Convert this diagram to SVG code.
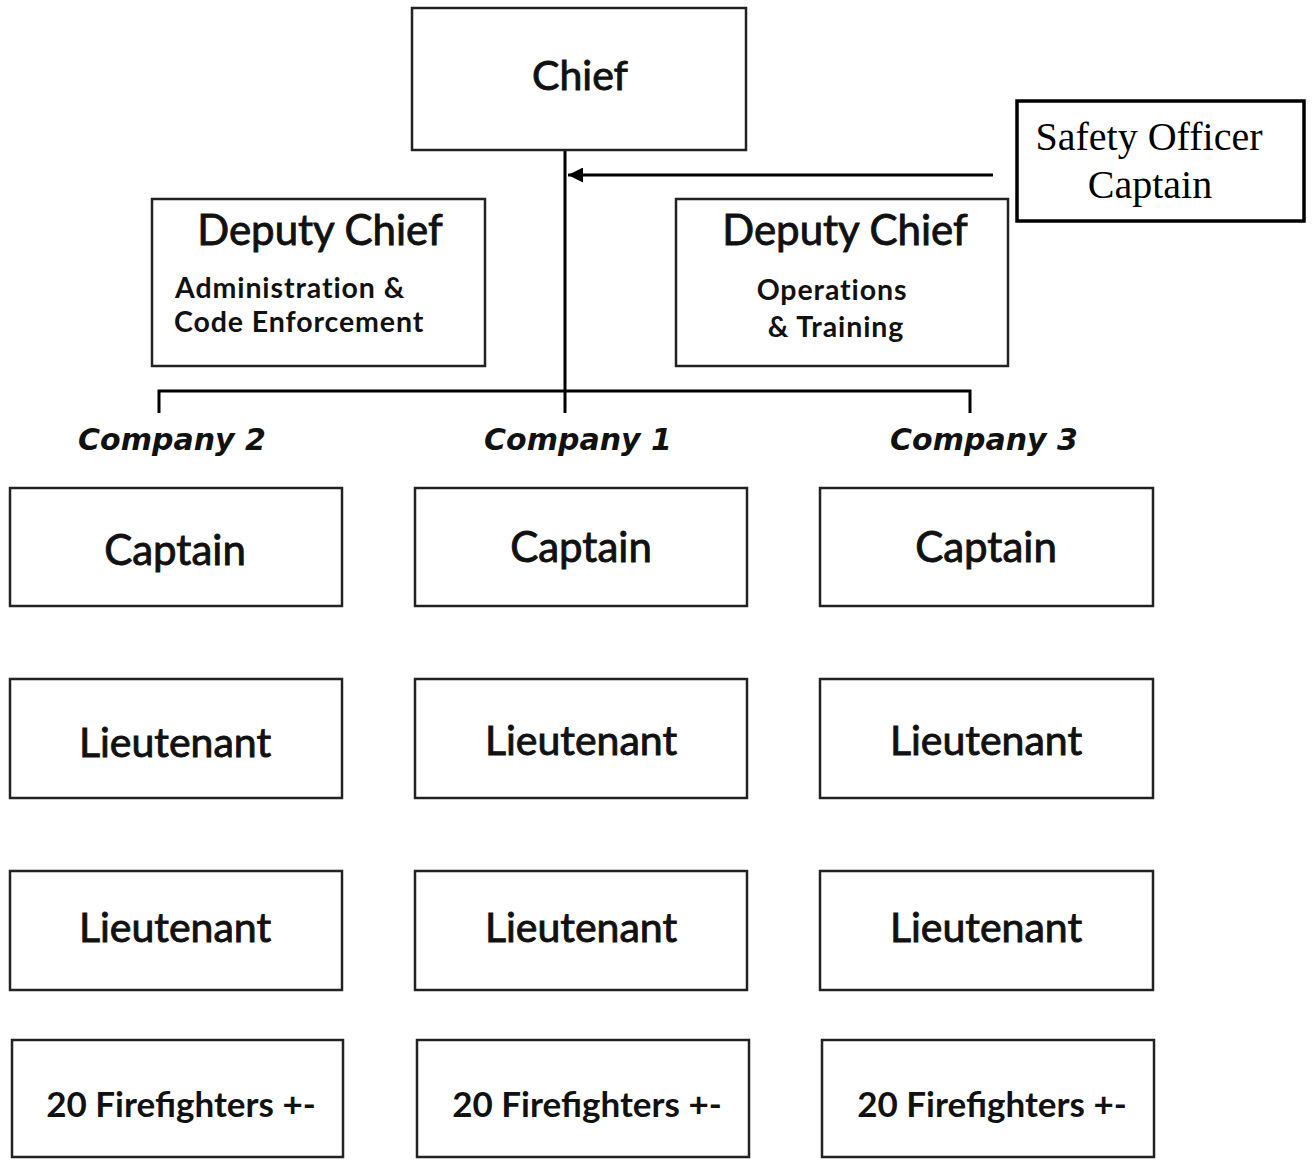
<svg xmlns="http://www.w3.org/2000/svg" width="1315" height="1160" viewBox="0 0 1315 1160">
<style>
.box{fill:#fff;stroke:#222;stroke-width:2.5}
.sbox{fill:#fff;stroke:#000;stroke-width:3.5}
.t{font-family:Lato,"Noto Sans",sans-serif;fill:#111;text-anchor:middle}
.big{font-size:41px;stroke:#111;stroke-width:0.9}
.sub{font-size:28.5px;font-weight:bold;letter-spacing:0.9px}
.ff{font-size:35px;font-weight:bold}
.co{font-family:"DejaVu Sans",Verdana,sans-serif;font-size:30px;font-weight:bold;font-style:italic;fill:#111;text-anchor:middle}
.serif{font-family:"Liberation Serif","Times New Roman",serif;font-size:40px;fill:#000;text-anchor:middle}
.ln{stroke:#000;stroke-width:3;fill:none}
</style>
<defs>
<marker id="ah" viewBox="0 0 10 10" refX="10" refY="5" markerWidth="5" markerHeight="5" orient="auto-start-reverse" markerUnits="strokeWidth">
<path d="M0,0 L10,5 L0,10 z" fill="#000"/>
</marker>
</defs>
<rect width="1315" height="1160" fill="#fff"/>
<g id="connectors">
<line class="ln" x1="565" y1="150" x2="565" y2="413"/>
<polyline class="ln" points="159,413 159,391 970,391 970,413"/>
<line class="ln" x1="993" y1="175" x2="568" y2="175" marker-end="url(#ah)"/>
</g>
<g id="chief">
<rect class="box" x="412" y="8" width="334" height="142"/>
<text class="t big" x="580" y="90">Chief</text>
</g>
<g id="safety-officer">
<rect class="sbox" x="1017" y="101" width="287" height="120"/>
<text class="serif" x="1149" y="150">Safety Officer</text>
<text class="serif" x="1150" y="198">Captain</text>
</g>
<g id="deputy-admin">
<rect class="box" x="152" y="199" width="333" height="167"/>
<text class="t big" x="320" y="245" style="font-size:42px">Deputy Chief</text>
<text class="t sub" x="175" y="298" style="text-anchor:start">Administration &amp;</text>
<text class="t sub" x="174" y="332" style="text-anchor:start">Code Enforcement</text>
</g>
<g id="deputy-ops">
<rect class="box" x="676" y="199" width="332" height="167"/>
<text class="t big" x="845" y="245" style="font-size:42px">Deputy Chief</text>
<text class="t sub" x="832" y="300">Operations</text>
<text class="t sub" x="836" y="337">&amp; Training</text>
</g>
<g id="label-company2"><text class="co" x="172" y="450">Company 2</text></g>
<g id="label-company1"><text class="co" x="578" y="450">Company 1</text></g>
<g id="label-company3"><text class="co" x="984" y="450">Company 3</text></g>
<g id="c2-captain"><rect class="box" x="10" y="488" width="332" height="118"/><text class="t big" x="175" y="565" style="font-size:42px">Captain</text></g>
<g id="c1-captain"><rect class="box" x="415" y="488" width="332" height="118"/><text class="t big" x="581" y="562" style="font-size:42px">Captain</text></g>
<g id="c3-captain"><rect class="box" x="820" y="488" width="333" height="118"/><text class="t big" x="986" y="562" style="font-size:42px">Captain</text></g>
<g id="c2-lt1"><rect class="box" x="10" y="679" width="332" height="119"/><text class="t big" x="175" y="757">Lieutenant</text></g>
<g id="c1-lt1"><rect class="box" x="415" y="679" width="332" height="119"/><text class="t big" x="581" y="755">Lieutenant</text></g>
<g id="c3-lt1"><rect class="box" x="820" y="679" width="333" height="119"/><text class="t big" x="986" y="755">Lieutenant</text></g>
<g id="c2-lt2"><rect class="box" x="10" y="871" width="332" height="119"/><text class="t big" x="175" y="942">Lieutenant</text></g>
<g id="c1-lt2"><rect class="box" x="415" y="871" width="332" height="119"/><text class="t big" x="581" y="942">Lieutenant</text></g>
<g id="c3-lt2"><rect class="box" x="820" y="871" width="333" height="119"/><text class="t big" x="986" y="942">Lieutenant</text></g>
<g id="c2-ff"><rect class="box" x="12" y="1040" width="331" height="117"/><text class="t ff" x="181" y="1117">20 Firefighters +-</text></g>
<g id="c1-ff"><rect class="box" x="417" y="1040" width="332" height="117"/><text class="t ff" x="587" y="1117">20 Firefighters +-</text></g>
<g id="c3-ff"><rect class="box" x="822" y="1040" width="332" height="117"/><text class="t ff" x="992" y="1117">20 Firefighters +-</text></g>
</svg>
